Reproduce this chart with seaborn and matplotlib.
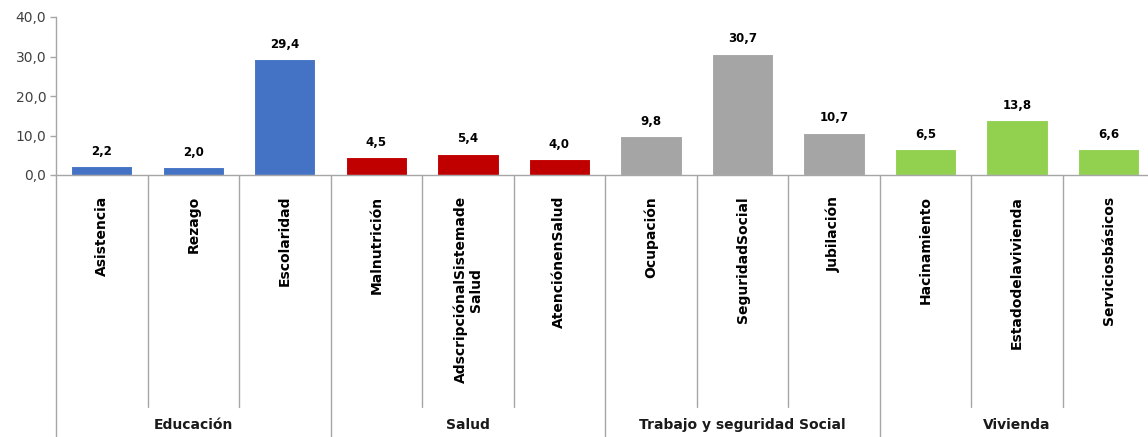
import matplotlib
matplotlib.use('Agg')
import matplotlib.pyplot as plt
import matplotlib.transforms as mtransforms
from matplotlib.ticker import FuncFormatter
import seaborn as sns
import pandas as pd

categories = ['Asistencia', 'Rezago', 'Escolaridad',
              'Malnutrición', 'AdscripciónalSistemade\nSalud', 'AtenciónenSalud',
              'Ocupación', 'SeguridadSocial', 'Jubilación',
              'Hacinamiento', 'Estadodelavivienda', 'Serviciosbásicos']
values = [2.2, 2.0, 29.4, 4.5, 5.4, 4.0, 9.8, 30.7, 10.7, 6.5, 13.8, 6.6]
groups = ['Educación'] * 3 + ['Salud'] * 3 + ['Trabajo y seguridad Social'] * 3 + ['Vivienda'] * 3
group_names = ['Educación', 'Salud', 'Trabajo y seguridad Social', 'Vivienda']
group_colors = ['#4472C4', '#C00000', '#A5A5A5', '#92D050']

df = pd.DataFrame({'indicador': categories, 'valor': values, 'dimension': groups})

sns.set_style('white')
plt.rcParams['font.family'] = ['DejaVu Sans']

fig = plt.figure(figsize=(11.48, 4.37), dpi=100)
H = 437.0
ax = fig.add_axes([56 / 1148, (H - 175) / H, 1 - 56 / 1148, (175 - 17) / H])

sns.barplot(data=df, x='indicador', y='valor', hue='dimension', order=categories,
            hue_order=group_names, palette=group_colors, saturation=1, dodge=False,
            width=0.67, edgecolor='white', linewidth=0.8, legend=False, ax=ax)

ax.set_ylim(0, 40)
ax.set_yticks([0, 10, 20, 30, 40])
ax.yaxis.set_major_formatter(FuncFormatter(lambda v, p: f'{v:.1f}'.replace('.', ',')))
ax.set_xlim(-0.5, len(categories) - 0.57)
ax.set_xticks([])
ax.set_xlabel('')
ax.set_ylabel('')
ax.tick_params(axis='y', left=True, length=4, width=1, color='#A6A6A6',
               labelsize=10, labelcolor='#404040', pad=3)
for s in ['top', 'right']:
    ax.spines[s].set_visible(False)
for s in ['left', 'bottom']:
    ax.spines[s].set_color('#A6A6A6')
    ax.spines[s].set_linewidth(1)

# value labels
for i, v in enumerate(values):
    ax.annotate(f'{v:.1f}'.replace('.', ','), (i, v), xytext=(0, 6),
                textcoords='offset points', ha='center', va='bottom',
                fontsize=8.5, fontweight='bold', color='#000000')

# category axis below plot
trans = mtransforms.blended_transform_factory(ax.transData, fig.transFigure)
y_top = (H - 175) / H
for i, lab in enumerate(categories):
    ax.text(i, (H - 196) / H, lab, transform=trans, rotation=90, ha='center', va='top',
            multialignment='center', fontsize=10, fontweight='bold', color='#000000',
            linespacing=1.1)

for b in range(len(categories)):
    x = b - 0.5
    y_end = 0.0 if b % 3 == 0 else (H - 407) / H
    ax.plot([x, x], [y_top, y_end], transform=trans, color='#A6A6A6', lw=1, clip_on=False)

for g, name in enumerate(group_names):
    ax.text(g * 3 + 1, (H - 425) / H, name, transform=trans, ha='center', va='center',
            fontsize=10, fontweight='bold', color='#1A1A1A')

fig.savefig('out.png', dpi=100)
